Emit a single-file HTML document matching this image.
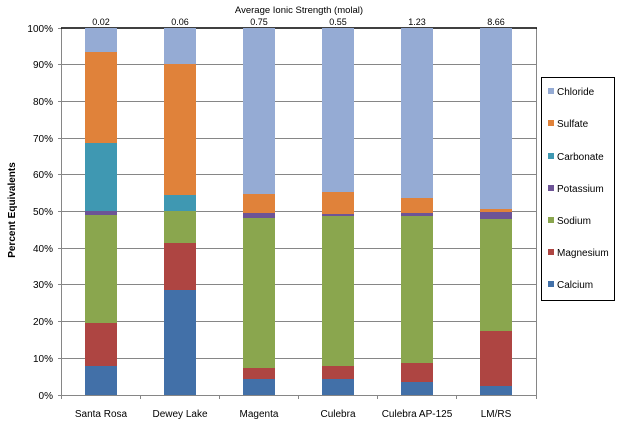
<!DOCTYPE html><html><head><style>body{margin:0;background:#fff}svg{display:block;font-family:"Liberation Sans",sans-serif}</style></head><body>
<svg width="623" height="424" xmlns="http://www.w3.org/2000/svg">
<g stroke="#868686" stroke-width="1">
<line x1="62" y1="64.5" x2="536" y2="64.5"/><line x1="62" y1="101.5" x2="536" y2="101.5"/><line x1="62" y1="138.5" x2="536" y2="138.5"/><line x1="62" y1="174.5" x2="536" y2="174.5"/><line x1="62" y1="211.5" x2="536" y2="211.5"/><line x1="62" y1="248.5" x2="536" y2="248.5"/><line x1="62" y1="284.5" x2="536" y2="284.5"/><line x1="62" y1="321.5" x2="536" y2="321.5"/><line x1="62" y1="358.5" x2="536" y2="358.5"/>
<line x1="62" y1="395.5" x2="536" y2="395.5"/><line x1="61.5" y1="28" x2="61.5" y2="399"/><line x1="536.5" y1="28" x2="536.5" y2="399"/>
<line x1="58" y1="28.5" x2="62" y2="28.5"/><line x1="58" y1="64.5" x2="62" y2="64.5"/><line x1="58" y1="101.5" x2="62" y2="101.5"/><line x1="58" y1="138.5" x2="62" y2="138.5"/><line x1="58" y1="174.5" x2="62" y2="174.5"/><line x1="58" y1="211.5" x2="62" y2="211.5"/><line x1="58" y1="248.5" x2="62" y2="248.5"/><line x1="58" y1="284.5" x2="62" y2="284.5"/><line x1="58" y1="321.5" x2="62" y2="321.5"/><line x1="58" y1="358.5" x2="62" y2="358.5"/><line x1="58" y1="395.5" x2="62" y2="395.5"/>
<line x1="140.5" y1="395" x2="140.5" y2="399"/><line x1="219.5" y1="395" x2="219.5" y2="399"/><line x1="298.5" y1="395" x2="298.5" y2="399"/><line x1="377.5" y1="395" x2="377.5" y2="399"/><line x1="456.5" y1="395" x2="456.5" y2="399"/>
</g>
<line x1="61" y1="28" x2="537" y2="28" stroke="#000" stroke-width="1.5"/>
<g id="bars">
<!-- Santa Rosa x=85 -->
<rect x="85" y="28" width="32" height="24" fill="#95abd4"/><rect x="85" y="52" width="32" height="91" fill="#e0823a"/><rect x="85" y="143" width="32" height="68" fill="#3f98b2"/><rect x="85" y="211" width="32" height="4" fill="#6d5496"/><rect x="85" y="215" width="32" height="108" fill="#8aa64e"/><rect x="85" y="323" width="32" height="43" fill="#ae4542"/><rect x="85" y="366" width="32" height="29" fill="#4270a8"/>
<!-- Dewey -->
<rect x="164" y="28" width="32" height="36" fill="#95abd4"/><rect x="164" y="64" width="32" height="131" fill="#e0823a"/><rect x="164" y="195" width="32" height="16" fill="#3f98b2"/><rect x="164" y="211" width="32" height="32" fill="#8aa64e"/><rect x="164" y="243" width="32" height="47" fill="#ae4542"/><rect x="164" y="290" width="32" height="105" fill="#4270a8"/>
<!-- Magenta -->
<rect x="243" y="28" width="32" height="166" fill="#95abd4"/><rect x="243" y="194" width="32" height="19" fill="#e0823a"/><rect x="243" y="213" width="32" height="5" fill="#6d5496"/><rect x="243" y="218" width="32" height="150" fill="#8aa64e"/><rect x="243" y="368" width="32" height="11" fill="#ae4542"/><rect x="243" y="379" width="32" height="16" fill="#4270a8"/>
<!-- Culebra -->
<rect x="322" y="28" width="32" height="164" fill="#95abd4"/><rect x="322" y="192" width="32" height="22" fill="#e0823a"/><rect x="322" y="214" width="32" height="2" fill="#6d5496"/><rect x="322" y="216" width="32" height="150" fill="#8aa64e"/><rect x="322" y="366" width="32" height="13" fill="#ae4542"/><rect x="322" y="379" width="32" height="16" fill="#4270a8"/>
<!-- AP-125 -->
<rect x="401" y="28" width="32" height="170" fill="#95abd4"/><rect x="401" y="198" width="32" height="15" fill="#e0823a"/><rect x="401" y="213" width="32" height="3" fill="#6d5496"/><rect x="401" y="216" width="32" height="147" fill="#8aa64e"/><rect x="401" y="363" width="32" height="19" fill="#ae4542"/><rect x="401" y="382" width="32" height="13" fill="#4270a8"/>
<!-- LM/RS -->
<rect x="480" y="28" width="32" height="181" fill="#95abd4"/><rect x="480" y="209" width="32" height="3" fill="#e0823a"/><rect x="480" y="212" width="32" height="7" fill="#6d5496"/><rect x="480" y="219" width="32" height="112" fill="#8aa64e"/><rect x="480" y="331" width="32" height="55" fill="#ae4542"/><rect x="480" y="386" width="32" height="9" fill="#4270a8"/>
</g>
<g font-size="10" fill="#000" text-anchor="end">
<text x="53" y="32">100%</text><text x="53" y="68">90%</text><text x="53" y="105">80%</text><text x="53" y="142">70%</text><text x="53" y="178">60%</text><text x="53" y="215">50%</text><text x="53" y="252">40%</text><text x="53" y="288">30%</text><text x="53" y="325">20%</text><text x="53" y="362">10%</text><text x="53" y="399">0%</text>
</g>
<g font-size="10" text-anchor="middle">
<text x="101" y="417">Santa Rosa</text><text x="180" y="417">Dewey Lake</text><text x="259" y="417">Magenta</text><text x="338" y="417">Culebra</text><text x="417" y="417">Culebra AP-125</text><text x="496" y="417">LM/RS</text>
<text x="101" y="25" font-size="9">0.02</text><text x="180" y="25" font-size="9">0.06</text><text x="259" y="25" font-size="9">0.75</text><text x="338" y="25" font-size="9">0.55</text><text x="417" y="25" font-size="9">1.23</text><text x="496" y="25" font-size="9">8.66</text>
<text x="299" y="13" font-size="9.5">Average Ionic Strength (molal)</text>
<text transform="translate(15,210) rotate(-90)" font-size="10" font-weight="bold">Percent Equivalents</text>
</g>
<rect x="541.5" y="77.5" width="73" height="223" fill="#fff" stroke="#000"/>
<g font-size="10">
<rect x="548" y="88" width="6" height="6" fill="#95abd4"/><text x="557" y="95">Chloride</text>
<rect x="548" y="120" width="6" height="6" fill="#e0823a"/><text x="557" y="127">Sulfate</text>
<rect x="548" y="153" width="6" height="6" fill="#3f98b2"/><text x="557" y="160">Carbonate</text>
<rect x="548" y="185" width="6" height="6" fill="#6d5496"/><text x="557" y="192">Potassium</text>
<rect x="548" y="217" width="6" height="6" fill="#8aa64e"/><text x="557" y="224">Sodium</text>
<rect x="548" y="249" width="6" height="6" fill="#ae4542"/><text x="557" y="256">Magnesium</text>
<rect x="548" y="281" width="6" height="6" fill="#4270a8"/><text x="557" y="288">Calcium</text>
</g>
</svg>
</body></html>
